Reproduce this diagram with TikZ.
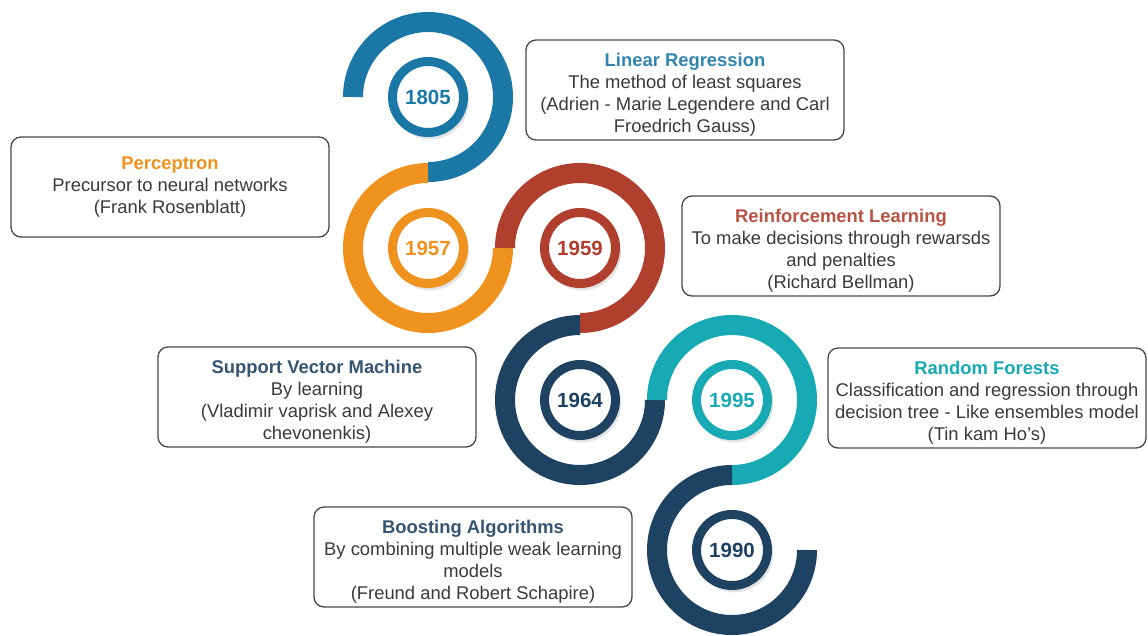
\documentclass[tikz,border=0pt]{standalone}
\usepackage{fontspec}
\setmainfont{Liberation Sans}
\usetikzlibrary{shadows}
\definecolor{cblue}{HTML}{1A77A6}
\definecolor{corange}{HTML}{F0931E}
\definecolor{cred}{HTML}{B03F2E}
\definecolor{cnavy}{HTML}{1E4261}
\definecolor{cteal}{HTML}{17AAB4}
\definecolor{ctext}{HTML}{3A3A3A}
\newcommand{\boxtitle}[2]{{\color{#1}\bfseries #2}}
\newcommand{\lowstrut}{\rule{0pt}{23pt}}

\begin{document}
\begin{tikzpicture}[x=1pt,y=1pt,
  band/.style={line width=20pt},
  year/.style={circle,draw=#1,line width=9pt,fill=white,minimum size=71pt,inner sep=0pt,
    text=#1,font=\fontsize{20.5}{24}\selectfont\bfseries,
    drop shadow={opacity=0.22,shadow scale=1.1,shadow xshift=2pt,shadow yshift=-3pt}},
  infobox/.style={draw=black!72,line width=1.3pt,rounded corners=10pt,fill=white,
    minimum width=318pt,minimum height=100pt,inner sep=2pt,align=center,
    text=ctext,font=\fontsize{18.4}{22}\selectfont}]
\fill [white] (0,0) rectangle (1148,-633);
%CENTRES OF THE RINGS
\coordinate (c1805) at (428,-97);
\coordinate (c1957) at (428,-248);
\coordinate (c1959) at (580,-248);
\coordinate (c1964) at (580,-400);
\coordinate (c1995) at (732,-400);
\coordinate (c1990) at (732,-550);
%THE S-SHAPED BAND
\draw [band,cblue] ([shift={(180:75)}]c1805) arc (180:-90:75);
\draw [band,corange] ([shift={(90:75)}]c1957) arc (90:360:75);
\draw [band,cred] ([shift={(180:75)}]c1959) arc (180:-90:75);
\draw [band,cnavy] ([shift={(90:75)}]c1964) arc (90:360:75);
\draw [band,cteal] ([shift={(180:75)}]c1995) arc (180:-90:75);
\draw [band,cnavy] ([shift={(90:75)}]c1990) arc (90:360:75);
%YEARS
\node [year=cblue] (y1805) at (c1805) {1805};
\node [year=corange] (y1957) at (c1957) {1957};
\node [year=cred] (y1959) at (c1959) {1959};
\node [year=cnavy] (y1964) at (c1964) {1964};
\node [year=cteal] (y1995) at (c1995) {1995};
\node [year=cnavy] (y1990) at (c1990) {1990};
%TEXT BOXES
\node [infobox] (linreg) at (685,-90) {\lowstrut\boxtitle{cblue!90!white}{Linear Regression}\\The method of least squares\\(Adrien - Marie Legendere and Carl\\Froedrich Gauss)};
\node [infobox] (percep) at (170,-187) {\boxtitle{corange}{Perceptron}\\Precursor to neural networks\\(Frank Rosenblatt)};
\node [infobox] (reinf) at (841,-246) {\lowstrut\boxtitle{cred!90!white}{Reinforcement Learning}\\To make decisions through rewarsds\\and penalties\\(Richard Bellman)};
\node [infobox] (svm) at (317,-397) {\lowstrut\boxtitle{cnavy!90!white}{Support Vector Machine}\\By learning\\(Vladimir vaprisk and Alexey\\chevonenkis)};
\node [infobox] (forest) at (987,-398) {\lowstrut\boxtitle{cteal}{Random Forests}\\Classification and regression through\\decision tree - Like ensembles model\\(Tin kam Ho's)};
\node [infobox] (boost) at (473,-557) {\lowstrut\boxtitle{cnavy!90!white}{Boosting Algorithms}\\By combining multiple weak learning\\models\\(Freund and Robert Schapire)};
\end{tikzpicture}
\end{document}
